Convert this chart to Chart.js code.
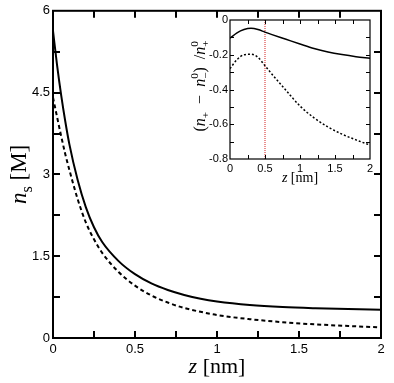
<!DOCTYPE html>
<html><head><meta charset="utf-8">
<script src="https://cdn.jsdelivr.net/npm/chart.js@4"></script>
<style>
html,body{margin:0;padding:0;background:#fff}
#wrap{position:relative;width:394px;height:383px;background:#fff}
#main{position:absolute;left:0;top:0}
#inset{position:absolute;left:190px;top:10px}
</style></head><body>
<div id="wrap"><canvas id="main" width="394" height="383"></canvas><canvas id="inset" width="190" height="185"></canvas></div>
<script>
// ---- main panel data: n_s [M] vs z [nm]
const zMain    = [0, 0.025, 0.05, 0.075, 0.1, 0.15, 0.2, 0.25, 0.3, 0.4, 0.5, 0.6, 0.7, 0.8, 0.9, 1.0, 1.2, 1.4, 1.6, 1.8, 2.0];
const nsSolid  = [5.63, 5.0, 4.45, 3.97, 3.55, 2.90, 2.40, 2.03, 1.76, 1.41, 1.17, 1.00, 0.88, 0.79, 0.72, 0.67, 0.605, 0.567, 0.545, 0.53, 0.52];
const nsDashed = [4.41, 4.05, 3.70, 3.37, 3.08, 2.55, 2.12, 1.81, 1.56, 1.21, 0.96, 0.78, 0.65, 0.55, 0.48, 0.42, 0.345, 0.29, 0.25, 0.22, 0.195];
// ---- inset data: (n+ - n-^0)/n+^0 vs z [nm]
const zInset      = [0, 0.1, 0.2, 0.3, 0.4, 0.5, 0.6, 0.8, 1.0, 1.2, 1.4, 1.6, 1.8, 2.0];
const relSolid    = [-0.105, -0.074, -0.055, -0.048, -0.055, -0.070, -0.084, -0.111, -0.138, -0.164, -0.184, -0.199, -0.211, -0.22];
const relDotted   = [-0.28, -0.228, -0.200, -0.197, -0.215, -0.263, -0.312, -0.405, -0.495, -0.563, -0.616, -0.657, -0.690, -0.72];
const markerZ     = [0.5, 0.5];
const markerRel   = [0, -0.8];
// ---- axis ticks
const mainXTickStep = 0.25, mainXLabelStep = 0.5;
const mainYTickStep = 0.75, mainYLabelStep = 1.5;
const insetXTickStep = 0.25, insetXLabelStep = 0.5;
const insetYTickStep = 0.1, insetYLabelStep = 0.2;

const pts = (xs, ys) => xs.map((x, i) => ({x, y: ys[i]}));
const isMult = (v, s) => Math.abs(v / s - Math.round(v / s)) < 1e-6;
const fmt = v => String(+(+v).toFixed(2));
const SERIF = '"Liberation Serif", "DejaVu Serif", serif';
const SANS = '"Liberation Sans", Arial, sans-serif';

function drawRich(ctx, runs, cx, cy, rot, size) {
  const fontOf = (it, s) => `${it ? 'italic ' : ''}${s}px ${SERIF}`;
  const small = size * 0.7;
  const parts = runs.map(r => {
    ctx.font = fontOf(r.it, size);
    const w = ctx.measureText(r.t).width;
    let ws = 0;
    ctx.font = fontOf(false, small);
    if (r.sub) ws = Math.max(ws, ctx.measureText(r.sub).width);
    if (r.sup) ws = Math.max(ws, ctx.measureText(r.sup).width);
    return {r, w, ws};
  });
  const total = parts.reduce((s, p) => s + p.w + p.ws, 0);
  ctx.save();
  ctx.translate(cx, cy); ctx.rotate(rot);
  ctx.fillStyle = '#000'; ctx.textBaseline = 'alphabetic'; ctx.textAlign = 'left';
  let x = -total / 2;
  parts.forEach(p => {
    ctx.font = fontOf(p.r.it, size); ctx.fillText(p.r.t, x, 0); x += p.w;
    ctx.font = fontOf(false, small);
    if (p.r.sub) ctx.fillText(p.r.sub, x, size * 0.25);
    if (p.r.sup) ctx.fillText(p.r.sup, x, -size * 0.42);
    x += p.ws;
  });
  ctx.restore();
}

function frameTicks(frameW, len, tickW) {
  return {
    id: 'frameTicks',
    afterDatasetsDraw(chart) {
      const {ctx, chartArea: a, scales: {x, y}} = chart;
      ctx.save();
      ctx.strokeStyle = '#000';
      ctx.lineWidth = tickW;
      ctx.beginPath();
      x.ticks.forEach(t => {
        if (t.value <= x.min + 1e-9 || t.value >= x.max - 1e-9) return;
        const px = Math.round(x.getPixelForValue(t.value)) + (tickW % 2 ? 0.5 : 0);
        ctx.moveTo(px, a.bottom); ctx.lineTo(px, a.bottom - len);
        ctx.moveTo(px, a.top); ctx.lineTo(px, a.top + len);
      });
      y.ticks.forEach(t => {
        if (t.value <= y.min + 1e-9 || t.value >= y.max - 1e-9) return;
        const py = Math.round(y.getPixelForValue(t.value)) + (tickW % 2 ? 0.5 : 0);
        ctx.moveTo(a.left, py); ctx.lineTo(a.left + len, py);
        ctx.moveTo(a.right, py); ctx.lineTo(a.right - len, py);
      });
      ctx.stroke();
      ctx.lineWidth = frameW;
      ctx.strokeRect(a.left, a.top, a.right - a.left, a.bottom - a.top);
      ctx.restore();
    }
  };
}

const titlesMain = {
  id: 'titlesMain',
  afterDraw(chart) {
    const {ctx, chartArea: a} = chart;
    drawRich(ctx, [{t: 'z', it: true}, {t: ' [nm]'}], (a.left + a.right) / 2, 373, 0, 22);
    drawRich(ctx, [{t: 'n', it: true, sub: 's'}, {t: ' [M]'}], 26, (a.top + a.bottom) / 2, -Math.PI / 2, 23);
  }
};
const titlesInset = {
  id: 'titlesInset',
  afterDraw(chart) {
    const {ctx, chartArea: a} = chart;
    drawRich(ctx, [{t: 'z', it: true}, {t: ' [nm]'}], (a.left + a.right) / 2, 172, 0, 14);
    drawRich(ctx, [{t: '('}, {t: 'n', it: true, sub: '+'}, {t: '  −  '}, {t: 'n', it: true, sub: '−', sup: '0'}, {t: ')  /'}, {t: 'n', it: true, sub: '+', sup: '0'}],
      15, 76, -Math.PI / 2, 16);
  }
};

Chart.defaults.font.family = SANS;
Chart.defaults.color = '#000';

new Chart(document.getElementById('main'), {
  type: 'line',
  data: {
    datasets: [
      {data: pts(zMain, nsSolid), borderColor: '#000', borderWidth: 2, pointRadius: 0, cubicInterpolationMode: 'monotone', fill: false},
      {data: pts(zMain, nsDashed), borderColor: '#000', borderWidth: 2, borderDash: [4, 3], pointRadius: 0, cubicInterpolationMode: 'monotone', fill: false}
    ]
  },
  options: {
    responsive: false, devicePixelRatio: 1, animation: false,
    layout: {padding: {left: 0, top: 10, right: 13, bottom: 0}},
    plugins: {legend: {display: false}, tooltip: {enabled: false}},
    scales: {
      x: {type: 'linear', min: 0, max: 2,
        ticks: {stepSize: mainXTickStep, autoSkip: false, maxRotation: 0, padding: 4, font: {size: 13},
          callback: v => isMult(v, mainXLabelStep) ? fmt(v) : ''},
        grid: {display: false, drawTicks: false}, border: {display: false},
        afterFit: s => { s.height = 45; }},
      y: {type: 'linear', min: 0, max: 6,
        ticks: {stepSize: mainYTickStep, autoSkip: false, padding: 3, font: {size: 13},
          callback: v => isMult(v, mainYLabelStep) ? fmt(v) : ''},
        grid: {display: false, drawTicks: false}, border: {display: false},
        afterFit: s => { s.width = 53; }}
    }
  },
  plugins: [frameTicks(2, 7, 2), titlesMain]
});

new Chart(document.getElementById('inset'), {
  type: 'line',
  data: {
    datasets: [
      {data: pts(zInset, relSolid), borderColor: '#000', borderWidth: 1.5, pointRadius: 0, cubicInterpolationMode: 'monotone', fill: false},
      {data: pts(zInset, relDotted), borderColor: '#000', borderWidth: 1.5, borderDash: [2, 2], pointRadius: 0, cubicInterpolationMode: 'monotone', fill: false},
      {data: pts(markerZ, markerRel), borderColor: '#d02020', borderWidth: 1, borderDash: [1, 1], pointRadius: 0, fill: false}
    ]
  },
  options: {
    responsive: false, devicePixelRatio: 1, animation: false,
    layout: {padding: {left: 0, top: 10, right: 10, bottom: 0}},
    plugins: {legend: {display: false}, tooltip: {enabled: false}},
    scales: {
      x: {type: 'linear', min: 0, max: 2,
        ticks: {stepSize: insetXTickStep, autoSkip: false, maxRotation: 0, padding: 3, font: {size: 11},
          callback: v => isMult(v, insetXLabelStep) ? fmt(v) : ''},
        grid: {display: false, drawTicks: false}, border: {display: false},
        afterFit: s => { s.height = 36; }},
      y: {type: 'linear', min: -0.8, max: 0,
        ticks: {stepSize: insetYTickStep, autoSkip: false, padding: 2, font: {size: 11},
          callback: v => isMult(v, insetYLabelStep) ? fmt(v) : ''},
        grid: {display: false, drawTicks: false}, border: {display: false},
        afterFit: s => { s.width = 40; }}
    }
  },
  plugins: [frameTicks(1.2, 4, 1), titlesInset]
});
</script>
</body></html>
